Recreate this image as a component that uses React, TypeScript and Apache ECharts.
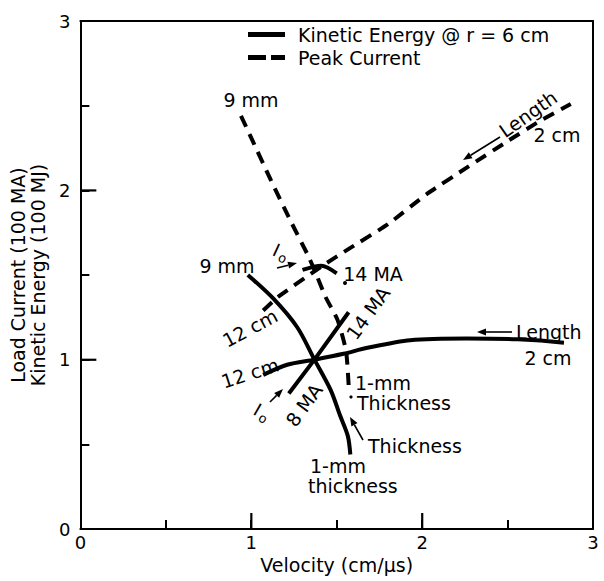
import React, { useEffect, useRef } from 'react';
import * as echarts from 'echarts';

// ---- data (x = velocity cm/µs, y = 100 MA / 100 MJ) ----
const KE_NAME = 'Kinetic Energy @ r = 6 cm';
const PC_NAME = 'Peak Current';

const keThickness: number[][] = [
  [0.98, 1.5], [1.13, 1.36], [1.27, 1.19], [1.37, 1.0], [1.465, 0.82],
  [1.52, 0.67], [1.565, 0.55], [1.58, 0.44],
];
const keLength: number[][] = [
  [1.07, 0.91], [1.21, 0.97], [1.37, 1.0], [1.54, 1.035], [1.68, 1.07],
  [1.93, 1.115], [2.26, 1.125], [2.56, 1.12], [2.83, 1.1],
];
const keCurrent: number[][] = [[1.22, 0.8], [1.37, 1.0], [1.57, 1.28]];

const pcThickness: number[][] = [
  [0.94, 2.44], [1.0, 2.31], [1.115, 2.06], [1.23, 1.82], [1.33, 1.62],
  [1.37, 1.53], [1.435, 1.37], [1.505, 1.235], [1.555, 1.05], [1.57, 0.85],
];
const pcLength: number[][] = [
  [1.07, 1.29], [1.156, 1.37], [1.41, 1.55], [1.58, 1.66], [1.8, 1.8],
  [2.03, 1.98], [2.27, 2.14], [2.5, 2.29], [2.69, 2.41], [2.87, 2.51],
];
const pcCurrent: number[][] = [[1.3, 1.53], [1.41, 1.555], [1.5, 1.51]];

const xTickLabels = ['0', '1', '2', '3'];
const yTickLabels = ['0', '1', '2', '3'];
const xMajorTicks = [1, 2];
const yMajorTicks = [1, 2];

const FONT = '"DejaVu Sans", "Liberation Sans", Arial, sans-serif';
const DASH = [12, 8];

function txt(text: string, x: number, y: number, rotDeg = 0, align = 'center', size = 19) {
  return {
    type: 'text',
    x,
    y,
    z: 10,
    rotation: (rotDeg * Math.PI) / 180,
    style: { text, fill: '#000', fontSize: size, fontFamily: FONT, align, verticalAlign: 'middle' },
  };
}

function arrow(x1: number, y1: number, x2: number, y2: number) {
  const a = Math.atan2(y2 - y1, x2 - x1);
  const L = 9, W = 3.5;
  const bx = x2 - L * Math.cos(a), by = y2 - L * Math.sin(a);
  const nx = -Math.sin(a), ny = Math.cos(a);
  return [
    { type: 'line', z: 10, shape: { x1, y1, x2: bx, y2: by }, style: { stroke: '#000', lineWidth: 1.6 } },
    {
      type: 'polygon',
      z: 10,
      shape: { points: [[x2, y2], [bx + W * nx, by + W * ny], [bx - W * nx, by - W * ny]] },
      style: { fill: '#000' },
    },
  ];
}

function izero(x: number, y: number, rotDeg: number) {
  return {
    type: 'group',
    x,
    y,
    z: 10,
    rotation: (rotDeg * Math.PI) / 180,
    children: [
      { type: 'text', x: -5, y: 0, style: { text: 'I', fill: '#000', fontSize: 18, fontFamily: FONT, align: 'center', verticalAlign: 'middle' } },
      { type: 'text', x: 4, y: 5, style: { text: 'o', fill: '#000', fontSize: 13, fontFamily: FONT, align: 'center', verticalAlign: 'middle' } },
    ],
  };
}

function lineSeries(name: string, data: number[][], dashed: boolean, smooth: number) {
  return {
    type: 'line',
    name,
    data,
    smooth,
    symbol: 'none',
    silent: true,
    lineStyle: { color: '#000', width: 4, type: dashed ? DASH : 'solid', cap: 'butt' },
    itemStyle: { color: '#000' },
  };
}

// whole-unit long ticks as filled bars, positioned through the axes' scales
function tickSeries(values: number[], dir: 'x' | 'y') {
  return {
    type: 'custom',
    silent: true,
    clip: false,
    z: 8,
    data: values.map((v) => (dir === 'x' ? [v, 0] : [0, v])),
    renderItem: (_p: any, api: any) => {
      const c = api.coord([api.value(0), api.value(1)]);
      return {
        type: 'rect',
        shape: dir === 'x'
          ? { x: c[0] - 1, y: c[1] - 16, width: 2.2, height: 16 }
          : { x: c[0], y: c[1] - 1, width: 16, height: 2.2 },
        style: { fill: '#000' },
      };
    },
  };
}

const intLabel = (labels: string[]) => (v: number) =>
  Math.abs(v - Math.round(v)) < 1e-6 ? labels[Math.round(v)] ?? '' : '';

export default function App() {
  const ref = useRef<HTMLDivElement>(null);
  useEffect(() => {
    const chart = echarts.init(ref.current!, null, { renderer: 'svg' });
    const base = {
      type: 'value',
      min: 0,
      max: 3,
      z: 5,
      splitLine: { show: false },
      minorTick: { show: false },
      minorSplitLine: { show: false },
    };
    const mainAxis = {
      ...base,
      interval: 0.5,
      axisLine: { show: true, onZero: false, lineStyle: { color: '#000', width: 2 } },
      axisTick: { show: true, inside: true, length: 9, lineStyle: { color: '#000', width: 2 } },
      nameLocation: 'middle',
      nameTextStyle: { color: '#000', fontSize: 19, fontFamily: FONT },
    };
    const borderAxis = {
      ...base,
      interval: 1,
      axisLine: { show: true, onZero: false, lineStyle: { color: '#000', width: 2 } },
      axisTick: { show: false },
      axisLabel: { show: false },
    };
    const option: any = {
      animation: false,
      backgroundColor: '#fff',
      grid: { left: 79, top: 21, width: 514, height: 508 },
      legend: {
        left: 243,
        top: 20,
        orient: 'vertical',
        itemWidth: 37,
        itemHeight: 5,
        itemGap: 4,
        selectedMode: false,
        data: [
          { name: KE_NAME, icon: 'path://M0,0H37V5H0Z', itemStyle: { color: '#000' } },
          { name: PC_NAME, icon: 'path://M0,0H18V5H0Z M23,0H37V5H23Z', itemStyle: { color: '#000' } },
        ],
        textStyle: { color: '#000', fontSize: 19, fontFamily: FONT, padding: [0, 0, 0, 8] },
      },
      xAxis: [
        {
          ...mainAxis,
          position: 'bottom',
          name: 'Velocity (cm/µs)',
          nameGap: 24,
          axisLabel: { color: '#000', fontSize: 18, fontFamily: FONT, margin: 4, formatter: intLabel(xTickLabels) },
        },
        { ...borderAxis, position: 'top' },
      ],
      yAxis: [
        {
          ...mainAxis,
          position: 'left',
          name: 'Load Current (100 MA)\nKinetic Energy (100 MJ)',
          nameGap: 26,
          nameTextStyle: { color: '#000', fontSize: 19, fontFamily: FONT, lineHeight: 20 },
          axisLabel: { color: '#000', fontSize: 18, fontFamily: FONT, margin: 10, formatter: intLabel(yTickLabels) },
        },
        { ...borderAxis, position: 'right' },
      ],
      series: [
        lineSeries(KE_NAME, keThickness, false, 0.3),
        lineSeries(KE_NAME, keLength, false, 0.3),
        lineSeries(KE_NAME, keCurrent, false, 0),
        lineSeries(PC_NAME, pcThickness, true, 0.2),
        lineSeries(PC_NAME, pcLength, true, 0.15),
        lineSeries(PC_NAME, pcCurrent, false, 0.3),
        tickSeries(xMajorTicks, 'x'),
        tickSeries(yMajorTicks, 'y'),
      ],
      graphic: [
        txt('9 mm', 251, 100),
        txt('9 mm', 227, 266),
        txt('12 cm', 250, 328, 28),
        txt('12 cm', 250, 373, 18),
        izero(281, 252, -25),
        ...arrow(277, 268, 297, 263),
        izero(262, 412, -30),
        ...arrow(270, 402, 283, 389),
        txt('14 MA', 373, 274),
        { type: 'circle', z: 10, shape: { cx: 345, cy: 283, r: 2 }, style: { fill: '#000' } },
        txt('14 MA', 368, 313, 54),
        txt('8 MA', 304, 405, 54),
        ...arrow(512, 332, 477, 332),
        txt('Length', 516, 332, 0, 'left'),
        txt('2 cm', 548, 358),
        txt('1-mm', 355, 383, 0, 'left'),
        { type: 'circle', z: 10, shape: { cx: 351, cy: 397, r: 1.6 }, style: { fill: '#000' } },
        txt('Thickness', 357, 403, 0, 'left'),
        ...arrow(363, 440, 350, 417),
        txt('Thickness', 368, 446, 0, 'left'),
        txt('1-mm', 310, 466, 0, 'left'),
        txt('thickness', 308, 486, 0, 'left'),
        txt('Length', 528, 114, 35),
        ...arrow(500, 137, 463, 160),
        txt('2 cm', 557, 135),
      ],
    };
    chart.setOption(option);
    return () => chart.dispose();
  }, []);
  return (
    <div
      ref={ref}
      style={{ position: 'fixed', left: 0, top: 0, width: 604, height: 581, background: '#fff' }}
    />
  );
}
